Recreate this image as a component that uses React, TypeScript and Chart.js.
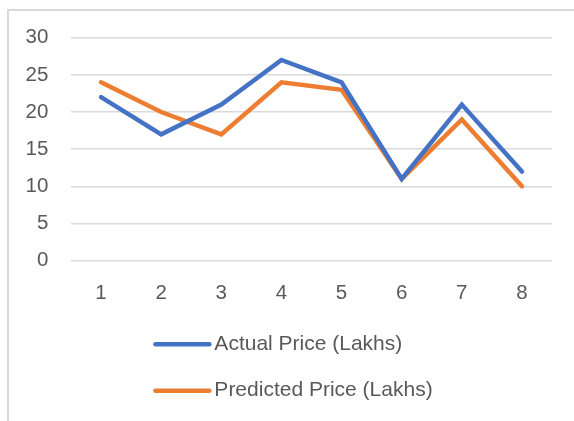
import React, { useEffect, useRef } from "react";
import { Chart, registerables } from "chart.js";

Chart.register(...registerables);

const categories = ["1", "2", "3", "4", "5", "6", "7", "8"];
const actualPrice = [22, 17, 21, 27, 24, 11, 21, 12];
const predictedPrice = [24, 20, 17, 24, 23, 11, 19, 10];
const seriesLabels = ["Actual Price (Lakhs)", "Predicted Price (Lakhs)"];
const seriesColors = ["#4472C4", "#ED7D31"];

const FONT = '"Liberation Sans", Arial, sans-serif';
const FONT_SIZE = 20.5;
const LEGEND_FONT_SIZE = 21;
const TEXT_COLOR = "#595959";

const verticalLegend = {
  id: "verticalLegend",
  afterDraw(chart: any) {
    const ctx = chart.ctx;
    ctx.save();
    ctx.font = `${LEGEND_FONT_SIZE}px ${FONT}`;
    const items = chart.data.datasets;
    const lineLen = 58;
    const gap = 3;
    const widths = items.map((d: any) => ctx.measureText(d.label).width);
    const blockW = lineLen + gap + Math.max(...widths);
    const left = chart.width / 2 + 6 - blockW / 2;
    const y0 = chart.chartArea.bottom + 83.5;
    const rowH = 46.5;
    items.forEach((d: any, i: number) => {
      const y = y0 + i * rowH;
      ctx.strokeStyle = d.borderColor;
      ctx.lineWidth = 4.5;
      ctx.lineCap = "round";
      ctx.beginPath();
      ctx.moveTo(left + 2, y);
      ctx.lineTo(left + lineLen - 2, y);
      ctx.stroke();
      ctx.fillStyle = TEXT_COLOR;
      ctx.textBaseline = "middle";
      ctx.textAlign = "left";
      ctx.fillText(d.label, left + lineLen + gap, y);
    });
    ctx.restore();
  },
};

export default function App() {
  const ref = useRef<HTMLCanvasElement | null>(null);
  useEffect(() => {
    if (!ref.current) return;
    const chart = new Chart(ref.current, {
      type: "line",
      data: {
        labels: categories,
        datasets: [
          {
            label: seriesLabels[0],
            data: actualPrice,
            borderColor: seriesColors[0],
            backgroundColor: seriesColors[0],
            borderWidth: 4.5,
            pointRadius: 0,
            tension: 0,
            fill: false,
            borderCapStyle: "round",
          },
          {
            label: seriesLabels[1],
            data: predictedPrice,
            borderColor: seriesColors[1],
            backgroundColor: seriesColors[1],
            borderWidth: 4.5,
            pointRadius: 0,
            tension: 0,
            fill: false,
            borderCapStyle: "round",
          },
        ],
      },
      options: {
        responsive: false,
        animation: false,
        devicePixelRatio: 1,
        layout: { padding: { left: 0, right: 22, top: 37.7, bottom: 110.3 } },
        plugins: {
          legend: { display: false },
          tooltip: { enabled: false },
        },
        scales: {
          x: {
            type: "category",
            offset: true,
            grid: { display: false, drawTicks: false },
            border: { display: false },
            ticks: {
              color: TEXT_COLOR,
              font: { family: FONT, size: FONT_SIZE },
              padding: 20,
              maxRotation: 0,
            },
            afterFit(scale: any) {
              scale.height = 50;
            },
          },
          y: {
            min: 0,
            max: 30,
            ticks: {
              stepSize: 5,
              color: TEXT_COLOR,
              font: { family: FONT, size: FONT_SIZE },
              padding: 22.7,
            },
            grid: { color: "#d9d9d9", lineWidth: 1.5, drawTicks: false },
            border: { display: false },
            afterFit(scale: any) {
              scale.width = 71;
            },
          },
        },
      },
      plugins: [verticalLegend],
    } as any);
    return () => chart.destroy();
  }, []);

  return (
    <div
      style={{
        position: "fixed",
        left: 0,
        top: 0,
        width: 574,
        height: 421,
        overflow: "hidden",
        background: "#fff",
      }}
    >
      <div
        style={{
          position: "absolute",
          left: 7,
          top: 9,
          width: 700,
          height: 700,
          borderTop: "2px solid #d9d9d9",
          borderLeft: "2px solid #d9d9d9",
          pointerEvents: "none",
        }}
      />
      <canvas
        ref={ref}
        width={574}
        height={421}
        style={{ position: "absolute", left: 0, top: 0, width: 574, height: 421 }}
      />
    </div>
  );
}
